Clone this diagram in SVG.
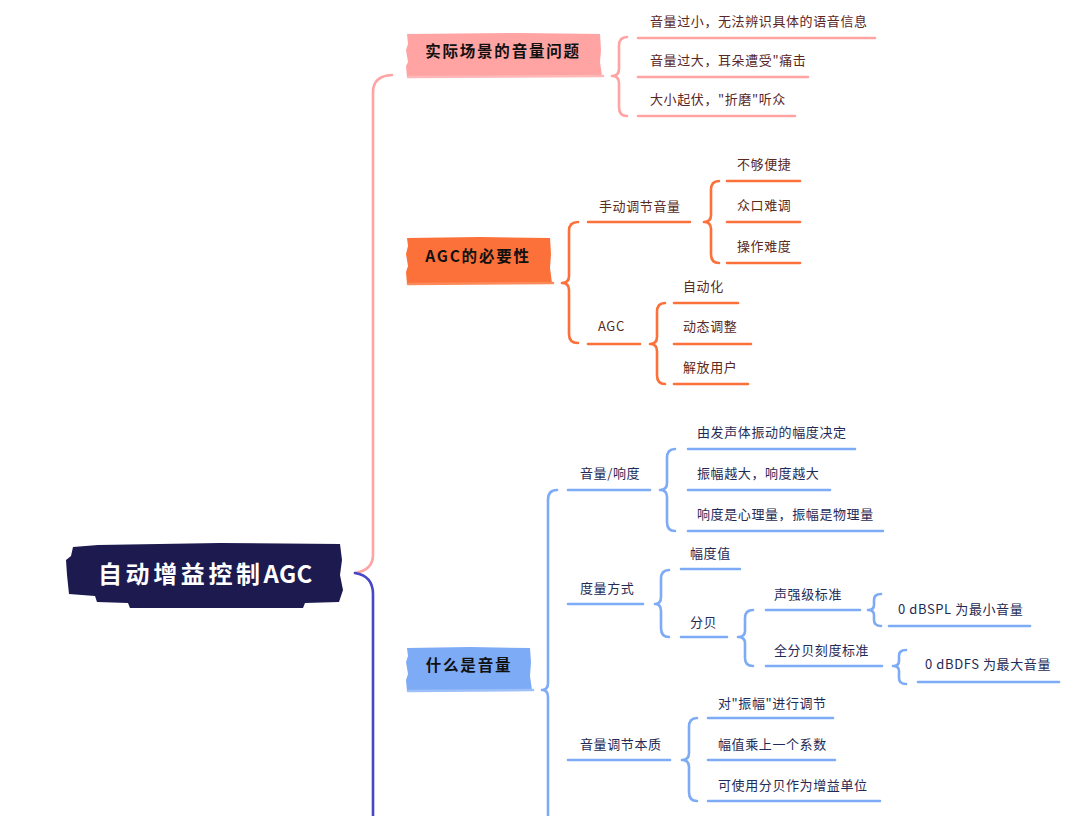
<svg xmlns="http://www.w3.org/2000/svg" width="1080" height="816" viewBox="0 0 1080 816">
<style>
.ln{fill:none;stroke-width:2.6;stroke-linecap:round;stroke-linejoin:round}
.pk{stroke:#ffa3a3}
.or{stroke:#fc7039}
.bl{stroke:#7eabf6}
.nv{stroke:#4646c8}
.t{font-family:"Noto Sans CJK SC","Noto Sans",sans-serif;font-size:13px;letter-spacing:0.6px}
.tp{fill:#5a2626}
.to{fill:#5a2a1c}
.tb{fill:#1f2b56}
.nt{font-family:"Noto Sans CJK SC","Noto Sans",sans-serif;font-size:15.5px;font-weight:bold;letter-spacing:1.8px;fill:#111}
.rt{font-family:"Noto Sans CJK SC","Noto Sans",sans-serif;font-size:24px;font-weight:bold;letter-spacing:3.6px;fill:#fff}
</style>
<rect width="1080" height="816" fill="#fff"/>
<g id="connectors">
<path class="ln pk" d="M355 573 Q373 570 373 555 L373 92 Q373 76 392 75"/>
<path class="ln nv" d="M355 573 Q373 576 373 594 L373 820"/>
<path class="ln pk" d="M627 37 Q619 37 619 46 L619 69 Q619 76 612 76 Q619 76 619 83 L619 107 Q619 116 627 116"/>
<path class="ln pk" d="M638 38 L875 38 M638 77 L808 77 M638 116 L795 116"/>
<path class="ln or" d="M578 222 Q569 222 569 231 L569 276 Q569 283 562 283 Q569 283 569 290 L569 334 Q569 343 578 343"/>
<path class="ln or" d="M588 222 L690 222 M588 344 L640 344"/>
<path class="ln or" d="M719 181 Q711 181 711 190 L711 215 Q711 222 704 222 Q711 222 711 229 L711 254 Q711 263 719 263"/>
<path class="ln or" d="M727 181 L800 181 M727 222 L800 222 M727 263 L800 263"/>
<path class="ln or" d="M665 303 Q657 303 657 312 L657 337 Q657 344 650 344 Q657 344 657 351 L657 375 Q657 384 665 384"/>
<path class="ln or" d="M674 303 L738 303 M674 344 L751 344 M674 384 L748 384"/>
<path class="ln bl" d="M557 490 Q548 490 548 500 L548 683 Q548 690 542 690 Q548 690 548 697 L548 820"/>
<path class="ln bl" d="M568 490 L650 490 M568 604 L643 604 M568 760 L670 760"/>
<path class="ln bl" d="M675 449 Q667 449 667 458 L667 483 Q667 490 660 490 Q667 490 667 497 L667 522 Q667 531 675 531"/>
<path class="ln bl" d="M688 449 L855 449 M688 490 L830 490 M688 531 L883 531"/>
<path class="ln bl" d="M669 570 Q661 570 661 579 L661 597 Q661 604 655 604 Q661 604 661 611 L661 628 Q661 637 669 637"/>
<path class="ln bl" d="M681 569 L740 569 M681 637 L727 637"/>
<path class="ln bl" d="M753 610 Q745 610 745 618 L745 631 Q745 637 738 637 Q745 637 745 643 L745 658 Q745 666 753 666"/>
<path class="ln bl" d="M766 610 L860 610 M766 666 L882 666"/>
<path class="ln bl" d="M881 594 Q874 594 874 600 L874 605 Q874 610 868 610 Q874 610 874 615 L874 620 Q874 626 881 626"/>
<path class="ln bl" d="M889 626 L1030 626"/>
<path class="ln bl" d="M906 650 Q899 650 899 656 L899 661 Q899 666 893 666 Q899 666 899 671 L899 678 Q899 684 906 684"/>
<path class="ln bl" d="M918 682 L1059 682"/>
<path class="ln bl" d="M697 718 Q689 718 689 727 L689 753 Q689 760 682 760 Q689 760 689 767 L689 792 Q689 801 697 801"/>
<path class="ln bl" d="M708 718 L833 718 M708 760 L835 760 M708 801 L880 801"/>
</g>
<g id="root">
<path d="M73 547 L98 545 L220 543 L340 544 L342 560 L340 575 L343 590 L339 602 L305 603 L303 608 L130 608 L128 603 L97 602 L95 596 L69 594 L67 575 L66 560 L71 556 Z" fill="#1c1a4e"/>
<text class="rt" x="98" y="583">自动增益控制<tspan letter-spacing="0.3">AGC</tspan></text>
</g>
<g id="n-scene">
<path d="M407 34 L520 33 L600 34 L601 50 L600 62 L602 76 L407 77 L406 66 L408 62 L406 50 L408 44 Z" fill="#ffa3a3"/>
<path class="ln" stroke="#ffb8b8" d="M408 77 L603 76"/>
<text class="nt" x="503" y="57" text-anchor="middle">实际场景的音量问题</text>
</g>
<g id="n-s1"><text class="t tp" x="650" y="26">音量过小，无法辨识具体的语音信息</text></g>
<g id="n-s2"><text class="t tp" x="650" y="65">音量过大，耳朵遭受"痛击</text></g>
<g id="n-s3"><text class="t tp" x="650" y="104">大小起伏，"折磨"听众</text></g>
<g id="n-need">
<path d="M407 238 L480 237 L550 238 L551 254 L550 268 L552 283 L407 284 L406 272 L408 266 L406 254 L408 246 Z" fill="#fc7039"/>
<path class="ln" stroke="#fd8a5a" d="M408 284 L553 283"/>
<text class="nt" x="478" y="262" text-anchor="middle">AGC的必要性</text>
</g>
<g id="n-manual"><text class="t to" x="599" y="211">手动调节音量</text></g>
<g id="n-m1"><text class="t to" x="737" y="169">不够便捷</text></g>
<g id="n-m2"><text class="t to" x="737" y="210">众口难调</text></g>
<g id="n-m3"><text class="t to" x="737" y="251">操作难度</text></g>
<g id="n-agc"><text class="t to" x="598" y="331">AGC</text></g>
<g id="n-a1"><text class="t to" x="683" y="291">自动化</text></g>
<g id="n-a2"><text class="t to" x="683" y="331">动态调整</text></g>
<g id="n-a3"><text class="t to" x="683" y="372">解放用户</text></g>
<g id="n-what">
<path d="M407 648 L470 647 L530 648 L531 662 L530 676 L532 690 L407 691 L406 680 L408 674 L406 662 L408 656 Z" fill="#7eabf6"/>
<path class="ln" stroke="#9dc0f8" d="M408 691 L533 690"/>
<text class="nt" x="469" y="671" text-anchor="middle">什么是音量</text>
</g>
<g id="n-loud"><text class="t tb" x="580" y="478">音量/响度</text></g>
<g id="n-l1"><text class="t tb" x="697" y="437">由发声体振动的幅度决定</text></g>
<g id="n-l2"><text class="t tb" x="697" y="478">振幅越大，响度越大</text></g>
<g id="n-l3"><text class="t tb" x="697" y="519">响度是心理量，振幅是物理量</text></g>
<g id="n-measure"><text class="t tb" x="580" y="593">度量方式</text></g>
<g id="n-amp"><text class="t tb" x="690" y="558">幅度值</text></g>
<g id="n-db"><text class="t tb" x="690" y="627">分贝</text></g>
<g id="n-spl"><text class="t tb" x="774" y="599">声强级标准</text></g>
<g id="n-spl1"><text class="t tb" x="898" y="614">0 dBSPL 为最小音量</text></g>
<g id="n-dbfs"><text class="t tb" x="774" y="655">全分贝刻度标准</text></g>
<g id="n-dbfs1"><text class="t tb" x="925" y="669">0 dBDFS 为最大音量</text></g>
<g id="n-essence"><text class="t tb" x="580" y="749">音量调节本质</text></g>
<g id="n-e1"><text class="t tb" x="718" y="708">对"振幅"进行调节</text></g>
<g id="n-e2"><text class="t tb" x="718" y="749">幅值乘上一个系数</text></g>
<g id="n-e3"><text class="t tb" x="718" y="790">可使用分贝作为增益单位</text></g>
</svg>
